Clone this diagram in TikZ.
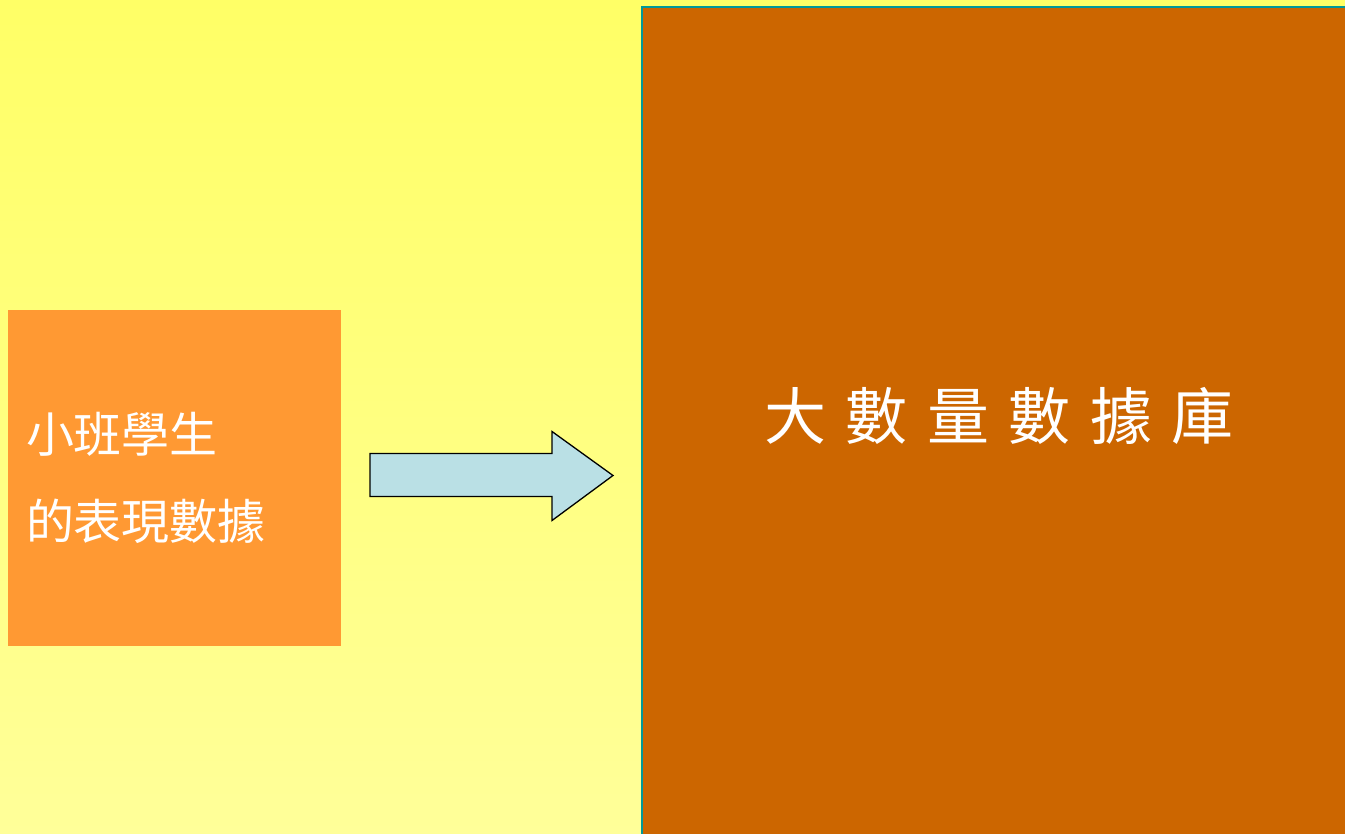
\documentclass[tikz,border=0pt]{standalone}
\usepackage{fontspec}
\usetikzlibrary{positioning,calc}
\newfontfamily\cjk{Noto Sans CJK TC}
\newfontfamily\cjkwide[WordSpace=1.4]{Noto Sans CJK TC}
\definecolor{slideyellow}{HTML}{FFFF66}
\definecolor{slidepale}{HTML}{FFFF99}
\definecolor{pupilorange}{HTML}{FF9933}
\definecolor{dbbrown}{HTML}{CC6600}
\definecolor{dbteal}{HTML}{009999}
\definecolor{arrowblue}{HTML}{BAE0E5}
\tikzset{
bx/.style={rectangle,inner sep=0pt,outer sep=0pt},
smallbox/.style={bx,fill=pupilorange,minimum width=333pt,minimum height=336pt},
bigbox/.style={bx,fill=dbbrown,draw=dbteal,line width=2pt,minimum width=712pt,minimum height=832pt,anchor=north west},
blockarrow/.style={draw=black,fill=arrowblue,line width=1.3pt,line join=miter},
lbl/.style={text=white,inner sep=0pt},
}

\begin{document}
\begin{tikzpicture}[x=1pt,y=-1pt]
	\useasboundingbox (0,0) rectangle (1345,834);
	\shade[top color=slideyellow,bottom color=slidepale] (0,0) rectangle (1345,834);

	\node[smallbox,lbl,align=left,text width=297pt,inner xsep=18pt,
		font=\cjk\fontsize{48}{87}\selectfont] (pupils) at (174.5,478) {小班學生\\的表現數據};
	\node[bigbox] (bigdb) at (642,7) {};
	\node[lbl,font=\cjkwide\fontsize{62}{72}\selectfont] (dbtitle) at (999,416) {大 數 量 數 據 庫};

	\coordinate (tail) at ([xshift=29pt,yshift=2.5pt]pupils.east);
	\coordinate (tip) at ([xshift=-29pt]tail -| bigdb.west);
	\draw[blockarrow] (tail) -- ++(0,-22) -- ++(182,0) -- ++(0,-22) -- (tip)
		-- ++(-61,45) -- ++(0,-24) -- ++(-182,0) -- cycle;
\end{tikzpicture}
\end{document}
